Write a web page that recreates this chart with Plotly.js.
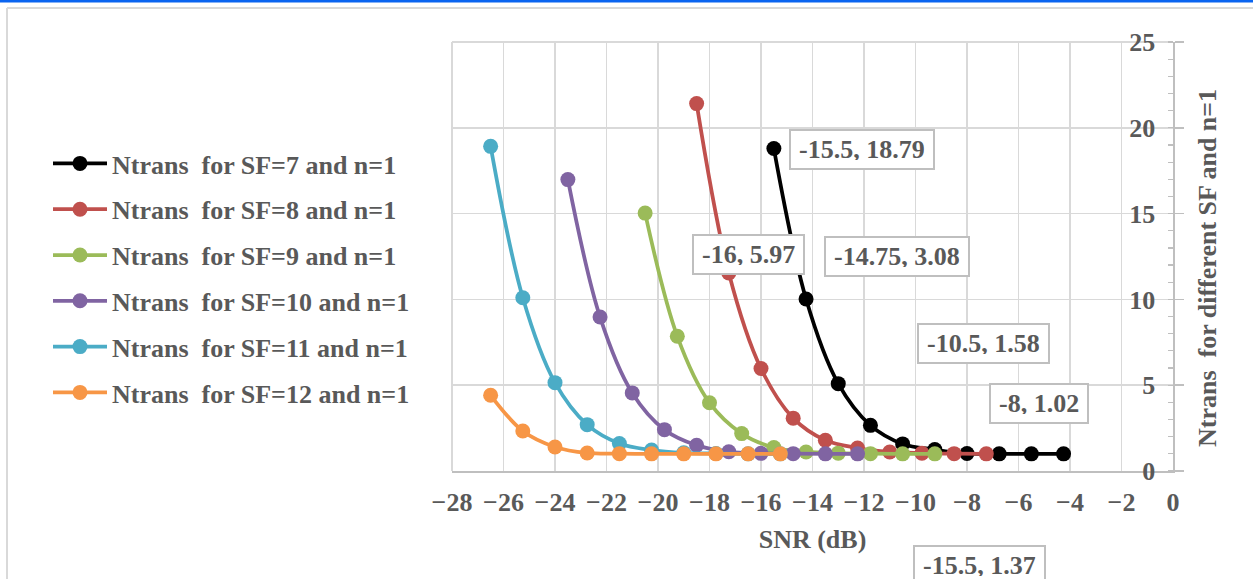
<!DOCTYPE html>
<html>
<head>
<meta charset="utf-8">
<script src="https://cdn.plot.ly/plotly-3.0.1.min.js"></script>
<style>
  html, body { margin: 0; padding: 0; background: #ffffff; }
  #chart { width: 1253px; height: 579px; }
</style>
</head>
<body>
<div id="chart"></div>
<script>
// Number of transmissions needed versus SNR, for spreading factors 7..12 (n = 1)
const seriesNames = [
  'Ntrans  for SF=7 and n=1',
  'Ntrans  for SF=8 and n=1',
  'Ntrans  for SF=9 and n=1',
  'Ntrans  for SF=10 and n=1',
  'Ntrans  for SF=11 and n=1',
  'Ntrans  for SF=12 and n=1'
];

const snrSF7  = [-15.5, -14.25, -13, -11.75, -10.5, -9.25, -8, -6.75, -5.5, -4.25];
const ntrSF7  = [18.79, 10.02, 5.09, 2.66, 1.58, 1.25, 1.02, 1.0, 1.0, 1.0];

const snrSF8  = [-18.5, -17.25, -16, -14.75, -13.5, -12.25, -11, -9.75, -8.5, -7.25];
const ntrSF8  = [21.41, 11.54, 5.97, 3.08, 1.79, 1.34, 1.11, 1.04, 1.01, 1.0];

const snrSF9  = [-20.5, -19.25, -18, -16.75, -15.5, -14.25, -13, -11.75, -10.5, -9.25];
const ntrSF9  = [15.03, 7.85, 3.98, 2.18, 1.37, 1.11, 1.04, 1.01, 1.0, 1.0];

const snrSF10 = [-23.5, -22.25, -21, -19.75, -18.5, -17.25, -16, -14.75, -13.5, -12.25];
const ntrSF10 = [16.98, 8.97, 4.55, 2.41, 1.5, 1.12, 1.03, 1.01, 1.0, 1.0];

const snrSF11 = [-26.5, -25.25, -24, -22.75, -21.5, -20.25, -19, -17.75, -16.5, -15.25];
const ntrSF11 = [18.92, 10.1, 5.15, 2.7, 1.6, 1.22, 1.06, 1.02, 1.0, 1.0];

const snrSF12 = [-26.5, -25.25, -24, -22.75, -21.5, -20.25, -19, -17.75, -16.5, -15.25];
const ntrSF12 = [4.41, 2.33, 1.4, 1.05, 1.01, 1.0, 1.0, 1.0, 1.0, 1.0];

const xTitle = 'SNR (dB)';
const yTitle = 'Ntrans  for different SF and n=1';

// Which points carry a value label: [series index, point index]
const labelledSeries = [0, 0, 0, 1, 1, 2];
const labelledPoints = [0, 4, 6, 2, 3, 4];

// ---- presentation ----
const snrs = [snrSF7, snrSF8, snrSF9, snrSF10, snrSF11, snrSF12];
const ntrs = [ntrSF7, ntrSF8, ntrSF9, ntrSF10, ntrSF11, ntrSF12];
const colors = ['#000000', '#C0504D', '#9BBB59', '#8064A2', '#4BACC6', '#F79646'];
const X_RANGE = [-28, 0];
const Y_RANGE = [0, 25];
// centre of each value-label box, in axis units (may sit outside the plot area)
const labelBoxPos = [
  [-12.09, 18.76],
  [-7.36, 7.43],
  [-5.2, 3.95],
  [-16.47, 12.63],
  [-10.73, 12.52],
  [-7.5, -5.52]
];

const FONT = 'Liberation Serif, Times New Roman, serif';
const TEXT = '#595959';
const GRID = '#d9d9d9';
const AXIS = '#bfbfbf';
const fnt = () => ({ family: FONT, size: 26, color: TEXT, weight: 'bold' });

const traces = seriesNames.map((name, i) => ({
  type: 'scatter',
  mode: 'lines+markers',
  name: name,
  x: snrs[i],
  y: ntrs[i],
  legendgroup: 'g' + i,
  line: { color: colors[i], width: 3.75, shape: 'spline', smoothing: 1 },
  marker: { color: colors[i], size: 15 },
  cliponaxis: false,
  hoverinfo: 'x+y'
}));

// axis units -> paper fractions, so boxes outside the axis range still show
const toPaperX = v => (v - X_RANGE[0]) / (X_RANGE[1] - X_RANGE[0]);
const toPaperY = v => (v - Y_RANGE[0]) / (Y_RANGE[1] - Y_RANGE[0]);

const annotations = labelledSeries.map((s, k) => {
  const p = labelledPoints[k];
  return {
    xref: 'paper', yref: 'paper',
    x: toPaperX(labelBoxPos[k][0]), y: toPaperY(labelBoxPos[k][1]),
    xanchor: 'center', yanchor: 'middle',
    text: snrs[s][p] + ', ' + ntrs[s][p],
    showarrow: false,
    font: fnt(),
    bgcolor: '#ffffff',
    bordercolor: AXIS,
    borderwidth: 2,
    borderpad: 8,
    height: 21
  };
});

// page frame: blue rule on top, light grey chart border; plot-area edges
const P = { l: 452, r: 1173, t: 42, b: 471 };
const px = v => (v - P.l) / (P.r - P.l);
const py = v => (P.b - v) / (P.b - P.t);

// vertical value-axis title, to the right of the axis
annotations.push({
  xref: 'paper', yref: 'paper',
  x: px(1207), y: py(268),
  xanchor: 'center', yanchor: 'middle',
  text: yTitle, textangle: -90,
  showarrow: false,
  font: fnt()
});

const shapes = [
  { type: 'rect', xref: 'paper', yref: 'paper', x0: px(-5), x1: px(1260), y0: py(2.5), y1: py(-5),
    fillcolor: '#0a64f0', line: { width: 0 }, layer: 'above' },
  { type: 'line', xref: 'paper', yref: 'paper', x0: px(7), x1: px(1260), y0: py(8), y1: py(8),
    line: { color: GRID, width: 2 } },
  { type: 'line', xref: 'paper', yref: 'paper', x0: px(7), x1: px(7), y0: py(8), y1: py(590),
    line: { color: GRID, width: 2 } },
  { type: 'line', xref: 'paper', yref: 'paper', x0: 0, x1: 0, y0: 0, y1: 1,
    line: { color: GRID, width: 2 }, layer: 'below' },
  { type: 'line', xref: 'paper', yref: 'paper', x0: 0, x1: 1, y0: 1, y1: 1,
    line: { color: GRID, width: 2 }, layer: 'below' }
];

const layout = {
  width: 1253, height: 579,
  margin: { l: P.l, r: 1253 - P.r, t: P.t, b: 579 - P.b, pad: 0 },
  paper_bgcolor: '#ffffff',
  plot_bgcolor: '#ffffff',
  font: fnt(),
  showlegend: true,
  legend: {
    x: px(48), xanchor: 'left',
    y: py(140), yanchor: 'top',
    font: fnt(),
    itemwidth: 54,
    traceorder: 'grouped',
    tracegroupgap: 9,
    bgcolor: 'rgba(0,0,0,0)'
  },
  xaxis: {
    range: X_RANGE,
    dtick: 2, tick0: 0,
    showgrid: true, gridcolor: GRID, gridwidth: 1.5,
    zeroline: false,
    showline: true, linecolor: AXIS, linewidth: 2,
    ticks: '',
    ticklabelstandoff: 7,
    ticklabeloverflow: 'allow',
    tickfont: fnt(),
    title: { text: xTitle, font: fnt(), standoff: 14 },
    fixedrange: true
  },
  yaxis: {
    range: Y_RANGE,
    dtick: 5, tick0: 0,
    side: 'right',
    ticklabelposition: 'inside',
    ticklabeloverflow: 'allow',
    ticklabelstandoff: 20,
    showgrid: true, gridcolor: GRID, gridwidth: 1.5,
    zeroline: false,
    showline: true, linecolor: AXIS, linewidth: 1.5,
    ticks: 'outside', ticklen: 9, tickcolor: AXIS, tickwidth: 1.5,
    minor: { dtick: 1, ticks: 'inside', ticklen: 5, tickcolor: AXIS, tickwidth: 1.2, showgrid: false },
    tickfont: fnt(),
    fixedrange: true
  },
  annotations: annotations,
  shapes: shapes
};

Plotly.newPlot('chart', traces, layout, { displayModeBar: false, staticPlot: true });
</script>
</body>
</html>
